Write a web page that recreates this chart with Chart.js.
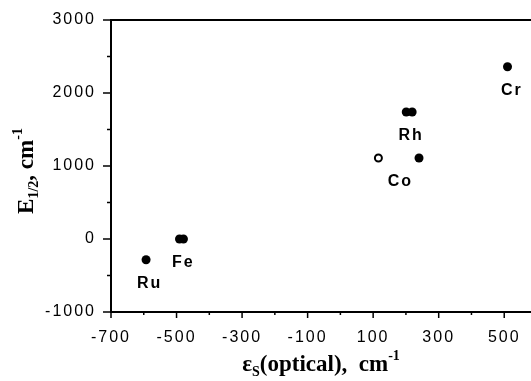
<!DOCTYPE html>
<html><head><meta charset="utf-8">
<script src="https://cdn.jsdelivr.net/npm/chart.js@4/dist/chart.umd.min.js"></script>
<style>html,body{margin:0;padding:0;background:#fff;overflow:hidden}canvas{display:block}</style>
</head><body><canvas id="c" width="545" height="381" style="width:545px;height:381px"></canvas>
<script>
// ---- data ----
const filledX = [-593, -491, -479, 201, 219, 240, 510];
const filledY = [-285, 0, 0, 1740, 1740, 1110, 2360];
const openX = [116];
const openY = [1110];
const metalNames = ['Ru', 'Fe', 'Rh', 'Co', 'Cr'];
const metalLabelX = [-585, -482, 213, 180, 520];
const metalLabelY = [-285, 0, 1740, 1110, 2360];
const xTickLabels = ['-700', '-500', '-300', '-100', '100', '300', '500'];
const yTickLabels = ['-1000', '0', '1000', '2000', '3000'];

const toPts = (xs, ys) => xs.map((x, i) => ({x: x, y: ys[i]}));

const SERIF = '"Liberation Serif", "Times New Roman", serif';
const SANS = '"Liberation Sans", Arial, sans-serif';

function drawSegments(ctx, segs, x, y, align) {
  let total = 0;
  segs.forEach(s => { ctx.font = s.font; total += ctx.measureText(s.t).width; });
  let cx = align === 'center' ? x - total / 2 : x;
  segs.forEach(s => {
    ctx.font = s.font;
    ctx.fillText(s.t, cx, y + (s.dy || 0));
    cx += ctx.measureText(s.t).width;
  });
}

const decor = {
  id: 'decor',
  beforeDraw(chart) { chart.ctx.letterSpacing = '2px'; },
  afterDraw(chart) {
    const ctx = chart.ctx;
    const a = chart.chartArea;
    const xs = chart.scales.x, ys = chart.scales.y;
    ctx.save();
    ctx.letterSpacing = '0px';
    ctx.strokeStyle = '#000';
    ctx.fillStyle = '#000';
    // top frame line
    ctx.lineWidth = 2;
    ctx.beginPath();
    ctx.moveTo(a.left - 1, a.top);
    ctx.lineTo(chart.width, a.top);
    ctx.stroke();
    // tick marks
    ctx.lineWidth = 1.5;
    xs.ticks.forEach(t => {
      const px = xs.getPixelForValue(t.value);
      const len = xTickLabels.includes(String(t.value)) ? 6 : 3;
      ctx.beginPath(); ctx.moveTo(px, a.bottom); ctx.lineTo(px, a.bottom + len); ctx.stroke();
    });
    ys.ticks.forEach(t => {
      const py = ys.getPixelForValue(t.value);
      const len = yTickLabels.includes(String(t.value)) ? 8 : 4;
      ctx.beginPath(); ctx.moveTo(a.left, py); ctx.lineTo(a.left - len, py); ctx.stroke();
    });
    // point labels
    ctx.font = 'bold 16px ' + SANS;
    ctx.letterSpacing = '2px';
    ctx.textAlign = 'center';
    ctx.textBaseline = 'alphabetic';
    metalNames.forEach((n, i) => {
      const px = xs.getPixelForValue(metalLabelX[i]);
      const py = ys.getPixelForValue(metalLabelY[i]);
      ctx.fillText(n, px + 1, py + 28);
    });
    // axis titles
    ctx.letterSpacing = '0px';
    ctx.textAlign = 'left';
    const big = 'bold 23px ' + SERIF, small = 'bold 14px ' + SERIF;
    drawSegments(ctx, [
      {t: 'ε', font: big}, {t: 'S', font: small, dy: 5},
      {t: '(optical),  cm', font: big}, {t: '-1', font: small, dy: -11}
    ], 321, 371, 'center');
    ctx.save();
    ctx.translate(33, (a.top + a.bottom) / 2 + 5);
    ctx.rotate(-Math.PI / 2);
    drawSegments(ctx, [
      {t: 'E', font: big}, {t: '1/2', font: small, dy: 5},
      {t: ', cm', font: big}, {t: '-1', font: small, dy: -11}
    ], 0, 0, 'center');
    ctx.restore();
    ctx.restore();
  }
};

new Chart(document.getElementById('c'), {
  type: 'scatter',
  data: {
    datasets: [
      {data: toPts(filledX, filledY), pointRadius: 4.5, pointHoverRadius: 4.5,
       backgroundColor: '#000', borderColor: '#000', borderWidth: 0},
      {data: toPts(openX, openY), pointRadius: 3.5, pointHoverRadius: 3.5,
       backgroundColor: '#fff', borderColor: '#000', borderWidth: 2}
    ]
  },
  options: {
    responsive: false, animation: false,
    layout: {autoPadding: false, padding: {top: 20, right: 8, left: 0, bottom: 0}},
    plugins: {legend: {display: false}, tooltip: {enabled: false}},
    scales: {
      x: {
        type: 'linear', min: -700, max: 600,
        grid: {display: false, drawTicks: false},
        border: {display: true, color: '#000', width: 2},
        ticks: {stepSize: 100, color: '#000', padding: 16, maxRotation: 0, autoSkip: false,
          font: {family: SANS, size: 16},
          callback: v => xTickLabels.includes(String(v)) ? String(v) : ''},
        afterFit: s => { s.height = 69; s.paddingLeft = 0; s.paddingRight = 0; }
      },
      y: {
        type: 'linear', min: -1000, max: 3000,
        grid: {display: false, drawTicks: false},
        border: {display: true, color: '#000', width: 2},
        ticks: {stepSize: 500, color: '#000', padding: 15, autoSkip: false,
          font: {family: SANS, size: 16},
          callback: v => yTickLabels.includes(String(v)) ? String(v) : ''},
        afterFit: s => { s.width = 111; s.paddingTop = 0; s.paddingBottom = 0; }
      }
    }
  },
  plugins: [decor]
});
</script>
</body></html>
